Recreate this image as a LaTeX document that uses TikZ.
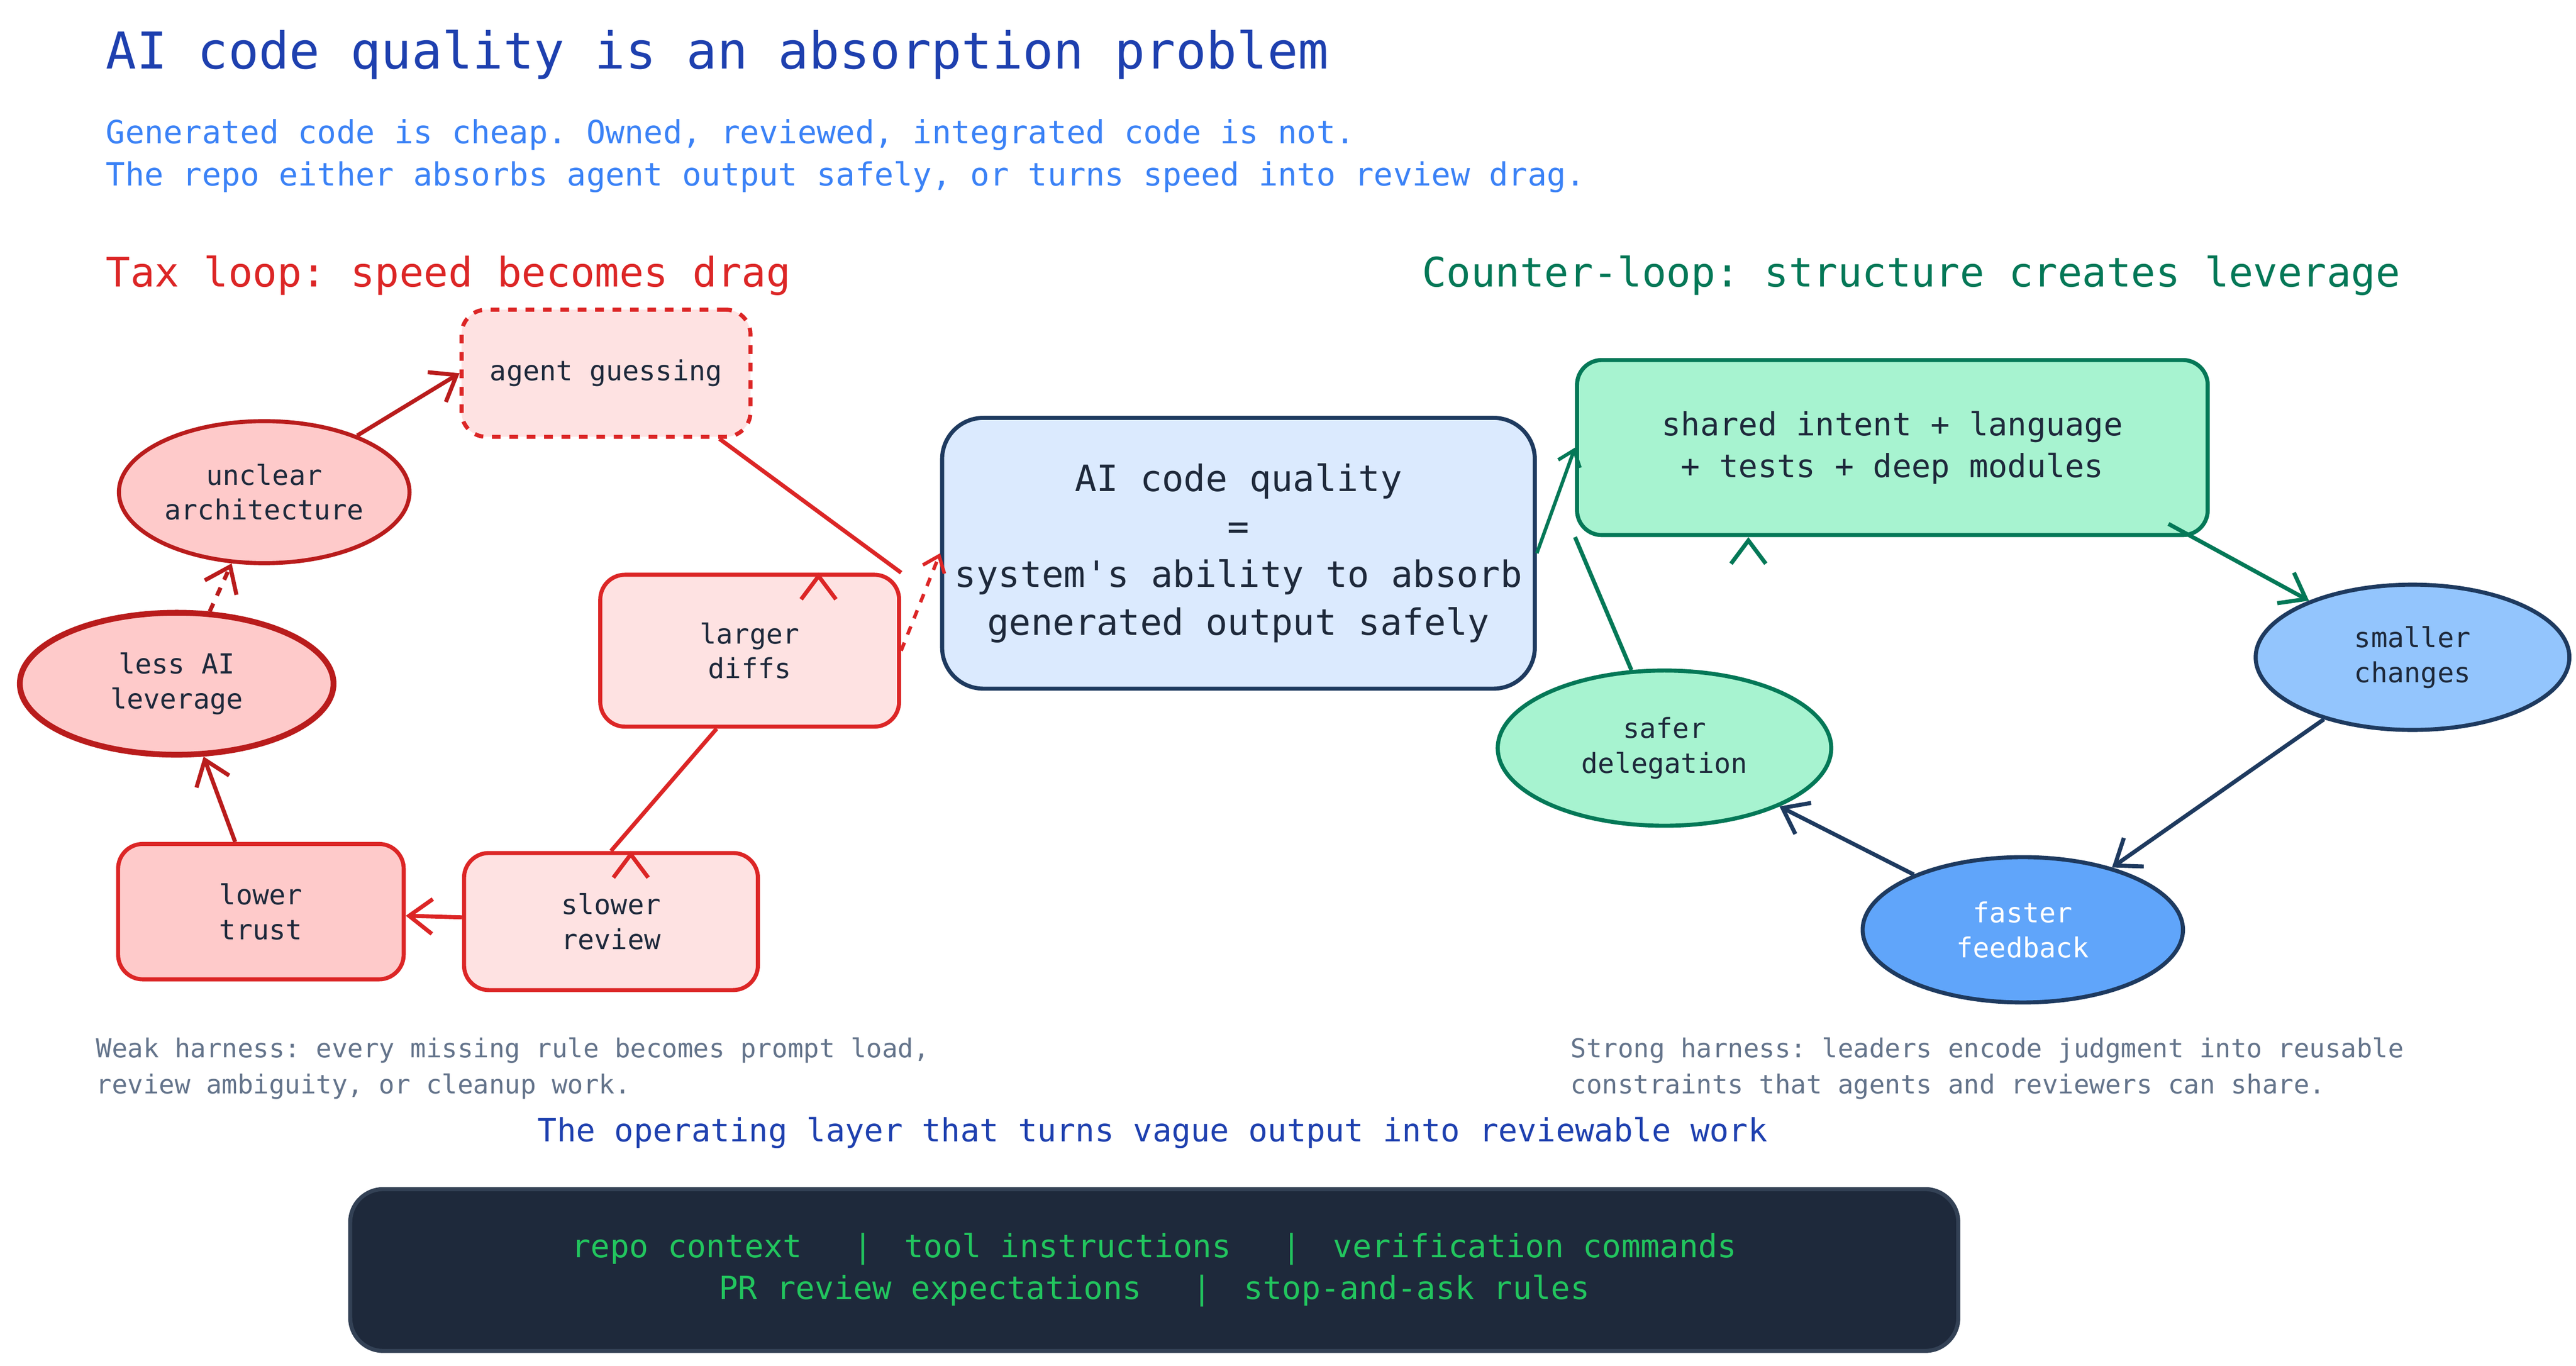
\documentclass[tikz,border=0pt]{standalone}
\usepackage{fontspec}
\setmonofont{DejaVu Sans Mono}
\usetikzlibrary{shapes.geometric,arrows.meta}
\definecolor{titleblue}{HTML}{1E40AF}
\definecolor{subblue}{HTML}{3B82F6}
\definecolor{taxred}{HTML}{DC2626}
\definecolor{darkred}{HTML}{B91C1C}
\definecolor{palered}{HTML}{FEE2E2}
\definecolor{pinkred}{HTML}{FECACA}
\definecolor{leafgreen}{HTML}{047857}
\definecolor{mint}{HTML}{A7F3D0}
\definecolor{navy}{HTML}{1E3A5F}
\definecolor{iceblue}{HTML}{DBEAFE}
\definecolor{skyblue}{HTML}{93C5FD}
\definecolor{midblue}{HTML}{60A5FA}
\definecolor{slate}{HTML}{64748B}
\definecolor{ink}{HTML}{1E293B}
\definecolor{inkline}{HTML}{334155}
\definecolor{codegreen}{HTML}{22C55E}
\tikzset{
    box/.style={
           rectangle,
           rounded corners=0.3cm,
           line width=1.4pt,
           inner sep=2pt,
           align=center,
           text=ink,
           font=\ttfamily\fontsize{9.5}{12}\selectfont,
           },
    blob/.style={
           ellipse,
           line width=1.4pt,
           inner sep=0pt,
           align=center,
           text=ink,
           font=\ttfamily\fontsize{9.5}{12}\selectfont,
           },
    link/.style={line width=1.4pt, -{Straight Barb[length=8pt,width=12pt]}},
    heading/.style={anchor=west, font=\ttfamily\fontsize{14}{17}\selectfont},
    note/.style={anchor=north west, align=left, text=slate, font=\ttfamily\fontsize{9}{12.5}\selectfont},
}
\begin{document}
\begin{tikzpicture}[x=0.02cm,y=-0.02cm]
    \useasboundingbox[fill=white] (0,0) rectangle (1560,827);

    % headings
    \node[anchor=west, text=titleblue, font=\ttfamily\fontsize{17.5}{20}\selectfont] (title) at (58,33) {AI code quality is an absorption problem};
    \node[anchor=north west, align=left, text=subblue, font=\ttfamily\fontsize{11}{14.5}\selectfont] (sub) at (58,66)
        {Generated code is cheap. Owned, reviewed, integrated code is not.\\
         The repo either absorbs agent output safely, or turns speed into review drag.};
    \node[heading, text=taxred] (taxhead) at (58,167) {Tax loop: speed becomes drag};
    \node[heading, text=leafgreen] (counterhead) at (855,167) {Counter-loop: structure creates leverage};

    % tax loop
    \node[box, draw=taxred, fill=palered, dashed, minimum width=3.5cm, minimum height=1.54cm] (guess) at (367,226) {agent guessing};
    \node[blob, draw=darkred, fill=pinkred, minimum width=3.52cm, minimum height=1.72cm] (unclear) at (160,298) {unclear\\architecture};
    \node[box, draw=taxred, fill=palered, minimum width=3.62cm, minimum height=1.84cm] (diffs) at (454,394) {larger\\diffs};
    \node[blob, draw=darkred, fill=pinkred, line width=2pt, minimum width=3.8cm, minimum height=1.72cm] (less) at (107,414) {less AI\\leverage};
    \node[box, draw=taxred, fill=pinkred, minimum width=3.46cm, minimum height=1.64cm] (trust) at (158,552) {lower\\trust};
    \node[box, draw=taxred, fill=palered, minimum width=3.56cm, minimum height=1.66cm] (review) at (370,558) {slower\\review};

    \draw[link, draw=darkred] (unclear) -- (guess.west);
    \draw[link, draw=taxred] (guess.south east) ++(-20,0) -- (diffs.north east) ++(-50,0);
    \draw[link, draw=taxred] (diffs.south) ++(-20,0) -- (review.north) ++(12,0);
    \draw[link, draw=taxred] (review) -- (trust);
    \draw[link, draw=darkred] (trust) -- (less);
    \draw[link, draw=darkred, dashed] (less) -- (unclear);

    % centre
    \node[box, draw=navy, fill=iceblue, rounded corners=0.5cm, minimum width=7.18cm, minimum height=3.28cm,
          font=\ttfamily\fontsize{12.5}{16.5}\selectfont] (quality) at (750,335)
        {AI code quality\\=\\system's ability to absorb\\generated output safely};
    \draw[link, draw=taxred, dashed, line width=1.2pt, -{Straight Barb[length=5pt,width=8pt]}] (diffs.east) -- (quality.west);

    % counter loop
    \node[box, draw=leafgreen, fill=mint, minimum width=7.64cm, minimum height=2.12cm,
          font=\ttfamily\fontsize{11}{14.5}\selectfont] (intent) at (1146,271)
        {shared intent + language\\+ tests + deep modules};
    \node[blob, draw=navy, fill=skyblue, minimum width=3.8cm, minimum height=1.76cm] (smaller) at (1461,398) {smaller\\changes};
    \node[blob, draw=navy, fill=midblue, text=white, minimum width=3.88cm, minimum height=1.76cm] (faster) at (1225,563) {faster\\feedback};
    \node[blob, draw=leafgreen, fill=mint, minimum width=4.04cm, minimum height=1.88cm] (safer) at (1008,453) {safer\\delegation};

    \draw[link, draw=leafgreen, line width=1.2pt, -{Straight Barb[length=5pt,width=8pt]}] (quality.east) -- (intent.west);
    \draw[link, draw=leafgreen] (safer) -- (intent.south west) ++(105,0);
    \draw[link, draw=leafgreen] (intent.south east) ++(-25,-8) -- (smaller);
    \draw[link, draw=navy] (smaller) -- (faster);
    \draw[link, draw=navy] (faster) -- (safer);

    % notes
    \node[note] (weak) at (52,622) {Weak harness: every missing rule becomes prompt load,\\review ambiguity, or cleanup work.};
    \node[note] (strong) at (945,622) {Strong harness: leaders encode judgment into reusable\\constraints that agents and reviewers can share.};

    % operating layer
    \node[text=titleblue, font=\ttfamily\fontsize{11}{14}\selectfont] (layerhead) at (698,686) {The operating layer that turns vague output into reviewable work};
    \node[box, draw=inkline, fill=ink, text=codegreen, rounded corners=0.4cm, minimum width=19.48cm, minimum height=1.96cm,
          font=\ttfamily\fontsize{11}{14.5}\selectfont] (layer) at (699,769)
        {repo context \quad|\quad tool instructions \quad|\quad verification commands\\
         PR review expectations \quad|\quad stop-and-ask rules};
\end{tikzpicture}
\end{document}
